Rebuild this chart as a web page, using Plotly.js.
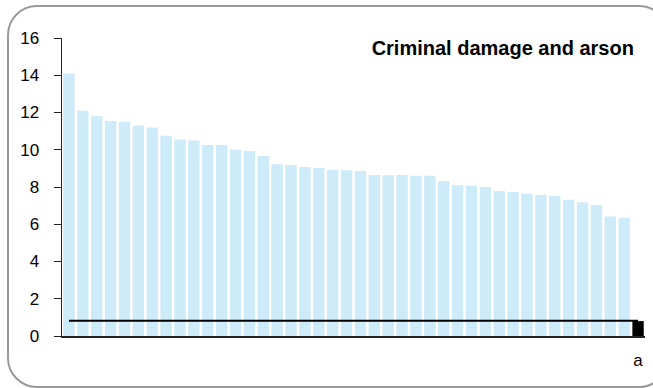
<!DOCTYPE html>
<html>
<head>
<meta charset="utf-8">
<script src="https://cdn.plot.ly/plotly-3.0.1.min.js"></script>
<style>
  html, body { margin: 0; padding: 0; background: #fff; overflow: hidden; }
  #wrap { position: relative; width: 653px; height: 388px; overflow: hidden; }
  #frame { position: absolute; left: 7px; top: 5px; width: 662px; height: 383px;
           border: 2px solid #9a9a9a; border-radius: 30px; box-sizing: border-box; }
  #chart { position: absolute; left: 0; top: 0; width: 653px; height: 388px; }
</style>
</head>
<body>
<div id="wrap">
  <div id="frame"></div>
  <div id="chart"></div>
</div>
<script>
// Area values (blue bars), sorted descending
const areaValues = [14.1, 12.1, 11.8, 11.55, 11.5, 11.3, 11.2, 10.75, 10.55, 10.5,
                    10.25, 10.25, 10.0, 9.93, 9.66, 9.22, 9.18, 9.08, 9.02, 8.93,
                    8.9, 8.86, 8.65, 8.63, 8.64, 8.61, 8.61, 8.32, 8.1, 8.07,
                    8.0, 7.78, 7.73, 7.64, 7.57, 7.52, 7.32, 7.18, 7.03, 6.42, 6.35];
// Final category "a" value (black bar) and reference line level
const refLabel = 'a';
const refValue = 0.8;
const lineValue = 0.82;
const yTicks = [0, 2, 4, 6, 8, 10, 12, 14, 16];
const chartTitle = 'Criminal damage and arson';

const nBars = areaValues.length;
const xBars = areaValues.map((_, i) => i + 1);
const xRef = nBars + 1;
const xAll = [...xBars, xRef];

const traces = [
  { type: 'bar', x: xBars, y: areaValues, marker: { color: '#cdebf8' }, hoverinfo: 'none' },
  { type: 'bar', x: [xRef], y: [refValue], marker: { color: '#000000' }, hoverinfo: 'none' },
  { type: 'scatter', mode: 'lines', x: xAll, y: xAll.map(() => lineValue),
    line: { color: '#000000', width: 2.2 }, hoverinfo: 'none' }
];

const layout = {
  width: 653, height: 388,
  margin: { l: 62, r: 8, t: 38, b: 52 },
  paper_bgcolor: 'rgba(0,0,0,0)',
  plot_bgcolor: 'rgba(0,0,0,0)',
  showlegend: false,
  barmode: 'overlay',
  bargap: 0.18,
  font: { family: 'Liberation Sans, Arial, sans-serif', color: '#000' },
  title: {
    text: '<b>' + chartTitle + '</b>',
    font: { size: 20, color: '#000' },
    xref: 'paper', x: 0.981, xanchor: 'right',
    yref: 'container', y: 1 - 48 / 388, yanchor: 'middle'
  },
  xaxis: {
    range: [0.5, nBars + 1.5],
    tickmode: 'array', tickvals: [xRef], ticktext: [refLabel],
    ticks: '', showgrid: false, zeroline: false,
    showline: true, linecolor: '#222', linewidth: 1.5,
    tickfont: { size: 17 }, ticklabelstandoff: 8
  },
  yaxis: {
    range: [0, 16],
    tickmode: 'array', tickvals: yTicks,
    ticks: 'outside', ticklen: 7, tickcolor: '#222', tickwidth: 1,
    showgrid: false, zeroline: false,
    showline: true, linecolor: '#222', linewidth: 1.5,
    tickfont: { size: 17 }, ticklabelstandoff: 11
  }
};

Plotly.newPlot('chart', traces, layout, { displayModeBar: false, staticPlot: true });
</script>
</body>
</html>
